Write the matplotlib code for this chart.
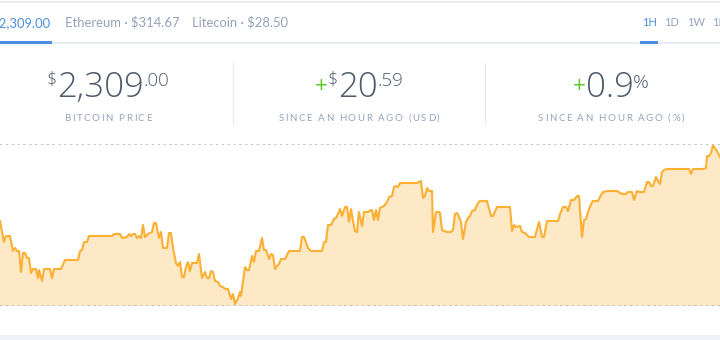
import matplotlib
matplotlib.use("Agg")
import matplotlib.pyplot as plt
from matplotlib.lines import Line2D
from matplotlib.patches import Rectangle

# price history for the last hour (seconds since start, USD)
seconds = [0, 20, 30, 50, 65, 75, 85, 95, 105, 115,
           125, 135, 145, 155, 165, 180, 190, 195, 210, 220,
           250, 260, 270, 305, 325, 390, 400, 410, 420, 435,
           445, 560, 570, 600, 610, 635, 645, 655, 665, 675,
           685, 695, 705, 715, 725, 740, 760, 770, 780, 795,
           805, 815, 835, 845, 855, 865, 880, 890, 900, 910,
           920, 930, 940, 950, 960, 985, 995, 1010, 1025, 1035,
           1045, 1055, 1065, 1075, 1090, 1100, 1115, 1125, 1140, 1155,
           1165, 1175, 1190, 1200, 1205, 1225, 1235, 1245, 1260, 1270,
           1280, 1295, 1310, 1320, 1330, 1345, 1355, 1365, 1375, 1385,
           1395, 1405, 1425, 1445, 1500, 1510, 1520, 1540, 1555, 1610,
           1620, 1630, 1640, 1655, 1670, 1680, 1690, 1700, 1710, 1725,
           1735, 1745, 1755, 1765, 1775, 1785, 1795, 1810, 1820, 1840,
           1855, 1860, 1870, 1880, 1890, 1900, 1920, 1935, 1945, 1960,
           1970, 1980, 1990, 2000, 2085, 2105, 2115, 2125, 2135, 2145,
           2160, 2165, 2180, 2195, 2200, 2210, 2235, 2255, 2265, 2275,
           2285, 2295, 2305, 2315, 2330, 2340, 2350, 2360, 2375, 2385,
           2395, 2400, 2435, 2455, 2465, 2485, 2550, 2560, 2570, 2580,
           2600, 2610, 2625, 2645, 2675, 2695, 2710, 2720, 2735, 2790,
           2800, 2815, 2830, 2840, 2855, 2870, 2885, 2895, 2910, 2920,
           2930, 2940, 2955, 2965, 2990, 3005, 3015, 3040, 3085, 3110,
           3130, 3140, 3160, 3170, 3185, 3195, 3220, 3235, 3245, 3255,
           3265, 3280, 3290, 3300, 3310, 3320, 3335, 3445, 3455, 3465,
           3515, 3530, 3535, 3545, 3555, 3565, 3580, 3585, 3600]

price = [2288.52, 2281.80, 2283.72, 2283.72, 2278.92, 2279.88, 2278.92, 2278.92, 2272.20, 2278.28,
         2278.28, 2276.68, 2276.68, 2271.88, 2273.16, 2273.16, 2270.28, 2272.84, 2269.32, 2273.16,
         2273.16, 2270.28, 2273.16, 2273.16, 2276.04, 2276.04, 2278.92, 2279.24, 2281.80, 2281.80,
         2283.72, 2283.72, 2284.36, 2284.36, 2283.08, 2283.40, 2284.36, 2283.72, 2284.36, 2284.36,
         2283.08, 2283.72, 2283.08, 2287.24, 2283.40, 2284.36, 2285.00, 2287.88, 2287.88, 2283.08,
         2285.00, 2279.88, 2279.88, 2284.68, 2284.68, 2279.88, 2275.08, 2274.12, 2275.40, 2270.60,
         2270.60, 2273.80, 2275.40, 2272.52, 2275.08, 2275.08, 2277.96, 2270.28, 2272.20, 2270.28,
         2270.28, 2272.52, 2272.20, 2269.32, 2269.00, 2267.72, 2267.40, 2266.76, 2266.76, 2263.56,
         2265.16, 2261.96, 2263.88, 2265.80, 2264.52, 2273.80, 2272.84, 2272.84, 2277.32, 2275.40,
         2278.92, 2278.92, 2283.08, 2279.24, 2279.24, 2276.36, 2277.96, 2277.64, 2273.16, 2274.12,
         2274.76, 2276.36, 2276.36, 2278.92, 2278.92, 2283.40, 2283.40, 2279.88, 2278.92, 2278.92,
         2281.80, 2281.80, 2287.24, 2287.24, 2289.16, 2289.48, 2290.76, 2292.36, 2290.12, 2293.00,
         2293.00, 2288.20, 2292.36, 2288.52, 2285.32, 2285.00, 2291.40, 2286.92, 2291.40, 2291.40,
         2292.04, 2292.04, 2288.84, 2292.04, 2288.84, 2292.68, 2293.32, 2294.60, 2296.20, 2296.52,
         2299.40, 2299.72, 2299.40, 2300.68, 2300.68, 2301.32, 2295.88, 2296.52, 2299.08, 2298.12,
         2298.12, 2285.00, 2291.40, 2291.40, 2291.08, 2285.64, 2285.00, 2285.00, 2285.64, 2290.76,
         2291.08, 2289.80, 2288.20, 2282.76, 2288.20, 2289.48, 2290.12, 2291.72, 2292.04, 2293.64,
         2294.60, 2294.92, 2294.92, 2290.12, 2290.12, 2293.00, 2293.00, 2285.32, 2287.24, 2286.60,
         2286.92, 2285.00, 2284.68, 2283.40, 2283.40, 2288.20, 2283.40, 2283.40, 2288.52, 2288.52,
         2290.76, 2293.00, 2293.00, 2291.72, 2295.24, 2295.24, 2296.52, 2296.52, 2283.40, 2288.84,
         2289.16, 2291.40, 2293.96, 2294.92, 2294.92, 2296.84, 2297.80, 2298.12, 2298.12, 2297.16,
         2297.16, 2297.80, 2297.80, 2295.24, 2298.12, 2297.80, 2297.80, 2301.00, 2301.00, 2299.72,
         2299.72, 2302.60, 2301.32, 2300.36, 2304.20, 2304.84, 2305.16, 2305.16, 2303.56, 2305.16,
         2305.16, 2305.48, 2309.32, 2309.32, 2310.28, 2312.84, 2311.24, 2310.92, 2309.00]

tabs = ["Bitcoin \u00b7 $2,309.00", "Ethereum \u00b7 $314.67", "Litecoin \u00b7 $28.50"]
periods = ["1H", "1D", "1W", "1M"]
labels = ["BITCOIN PRICE", "SINCE AN HOUR AGO (USD)", "SINCE AN HOUR AGO (%)"]

FONT = ["Lato", "DejaVu Sans"]
BIG = ["Open Sans", "DejaVu Sans"]
DARK = "#4f5b6c"
GREY = "#94a3bb"
BLUE = "#4a8fe0"
GREEN = "#5cc92a"
LINE = "#fbb034"
FILL = "#fee9c6"

W, H = 720, 340
fig = plt.figure(figsize=(7.2, 3.4), dpi=100)
fig.patch.set_facecolor("white")
renderer = fig.canvas.get_renderer()


def P(x, y):
    return x / W, 1 - y / H


def hline(y, x0, x1, color, lw):
    fig.add_artist(Line2D([x0 / W, x1 / W], [1 - y / H, 1 - y / H], color=color, lw=lw,
                          transform=fig.transFigure))


def vline(x, y0, y1, color, lw):
    fig.add_artist(Line2D([x / W, x / W], [1 - y0 / H, 1 - y1 / H], color=color, lw=lw,
                          transform=fig.transFigure))


def rich(cx, base, parts):
    # parts: (text, size, color, weight, raise_px)
    arts = []
    x = 0
    for txt, size, col, wt, up in parts:
        t = fig.text(*P(x, base - up), txt, fontsize=size, color=col, family=BIG,
                     fontweight=wt, va="baseline", ha="left")
        w = t.get_window_extent(renderer).width
        arts.append((t, x, up))
        x += w
    x0 = cx - x / 2
    for t, off, up in arts:
        t.set_position(P(x0 + off, base - up))


def spaced(cx, base, txt, size, color, track):
    arts = []
    x = 0
    for ch in txt:
        t = fig.text(*P(x, base), ch, fontsize=size, color=color, family=FONT,
                     va="baseline", ha="left")
        w = t.get_window_extent(renderer).width if ch != " " else size * 0.35
        arts.append((t, x))
        x += w + track
    x -= track
    x0 = cx - x / 2
    for t, off in arts:
        t.set_position(P(x0 + off, base))


# header lines
hline(1.5, 0, W, "#e6e9ee", 1.2)
hline(42.5, 0, W, "#e8ebf0", 1.5)
hline(42, 0, 50, BLUE, 2.2)
hline(42, 641, 656, BLUE, 2.2)

# currency tabs
fig.text(*P(50, 27), tabs[0], fontsize=9.4, color=BLUE, family=FONT, ha="right", va="baseline")
fig.text(*P(65, 27), tabs[1], fontsize=9.4, color=GREY, family=FONT, ha="left", va="baseline")
fig.text(*P(192, 27), tabs[2], fontsize=9.4, color=GREY, family=FONT, ha="left", va="baseline")

period_x = [642, 664, 687, 712]
for i, p in enumerate(periods):
    fig.text(*P(period_x[i], 26.5), p, fontsize=8, color=BLUE if i == 0 else GREY,
             family=FONT, ha="left", va="baseline")

# stats
rich(108, 97, [("$", 13, DARK, "light", 12), ("2,309", 25, DARK, "light", 0),
               (".00", 13.5, DARK, "light", 11)])
rich(359, 97, [("+", 16, GREEN, "normal", 5), ("$", 13, DARK, "light", 12),
               ("20", 25, DARK, "light", 0), (".59", 13.5, DARK, "light", 11)])
rich(611, 97, [("+", 16, GREEN, "normal", 5), ("0.9", 25, DARK, "light", 0),
               ("%", 14, DARK, "light", 9)])
label_x = [108, 359, 611]
for i, lab in enumerate(labels):
    spaced(label_x[i], 121, lab, 7, GREY, 1.6)

vline(233, 63, 124, "#e8ebf0", 1)
vline(485, 63, 124, "#e8ebf0", 1)

# price chart
top, bottom = 144, 306
ax = fig.add_axes([0, 1 - bottom / H, 1, (bottom - top) / H])
lo = min(price) - 0.64
hi = max(price) + 0.32
ax.fill_between(seconds, price, lo, color=FILL, lw=0)
ax.plot(seconds, price, color=LINE, lw=1.5)
ax.axhline(hi, color="#b8bfcb", lw=1.2, ls=(0, (1.5, 2)))
ax.axhline(lo, color="#b8bfcb", lw=1.2, ls=(0, (1.5, 2)))
ax.set_xlim(0, 3600)
ax.set_ylim(lo, hi)
ax.axis("off")

fig.add_artist(Rectangle((0, 0), 1, 5 / H, transform=fig.transFigure, color="#eef1f5", lw=0))

plt.savefig("out.png", dpi=100)
